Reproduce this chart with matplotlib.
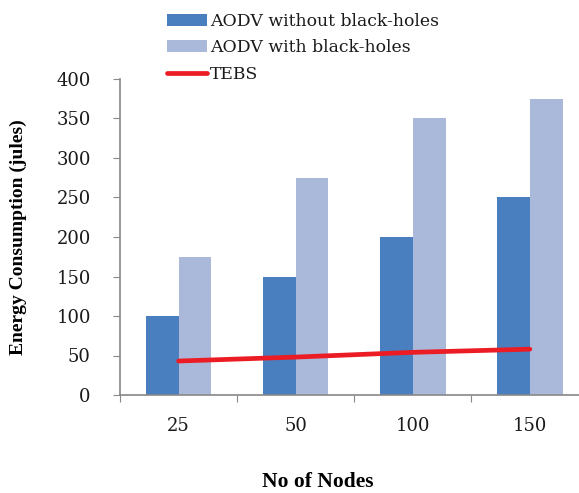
import numpy as np
import matplotlib.pyplot as plt

nodes = ["25", "50", "100", "150"]
aodv_clean = [100, 150, 200, 250]
aodv_blackhole = [175, 275, 350, 375]
tebs = [43, 48, 54, 58]

plt.rcParams['font.family'] = ['DejaVu Serif']

fig = plt.figure(figsize=(5.79, 4.93), dpi=100)
ax = fig.add_axes([120 / 579, 98 / 493, 1 - 120 / 579, 316 / 493])

x = np.arange(len(nodes))
w = 0.28
b1 = ax.bar(x - w / 2, aodv_clean, width=w, color='#4a7fbf', label='AODV without black-holes')
b2 = ax.bar(x + w / 2, aodv_blackhole, width=w, color='#aab9d9', label='AODV with black-holes')
ln, = ax.plot(x, tebs, color='#ec1c24', lw=3.4, solid_capstyle='round', label='TEBS')

ax.set_ylim(0, 400)
ax.set_yticks(np.arange(0, 401, 50))
ax.set_xlim(-0.5, 3.42)
ax.set_xticks(np.arange(-0.5, 3.0, 1.0))
ax.set_xticklabels([])
ax.set_xticks(x, minor=True)
ax.set_xticklabels(nodes, minor=True)
ax.tick_params(axis='x', which='minor', length=0, pad=16, labelsize=13, labelcolor='#1a1a1a')
ax.tick_params(axis='x', which='major', length=5, color='#888888')
ax.tick_params(axis='y', length=5, color='#888888', labelsize=13, labelcolor='#1a1a1a', pad=16)

for s in ['top', 'right']:
    ax.spines[s].set_visible(False)
for s in ['left', 'bottom']:
    ax.spines[s].set_color('#888888')
    ax.spines[s].set_linewidth(1.2)

ax.set_xlabel("No of Nodes", fontsize=15.5, fontweight='bold', fontfamily='Liberation Serif')
ax.xaxis.set_label_coords((318 - 120) / 459, -0.245)
ax.set_ylabel("Energy Consumption (jules)", fontsize=14, fontweight='bold', fontfamily='Liberation Serif')
ax.yaxis.set_label_coords(-0.203, 0.5)

fig.legend(handles=[b1, b2, ln], loc='upper left', bbox_to_anchor=(160 / 579, 1 - 6 / 493),
           frameon=False, fontsize=12.4, handlelength=2.3, handleheight=0.7,
           handletextpad=0.2, labelspacing=0.55, borderaxespad=0, labelcolor='#1a1a1a')

fig.savefig("out.png", dpi=100)
